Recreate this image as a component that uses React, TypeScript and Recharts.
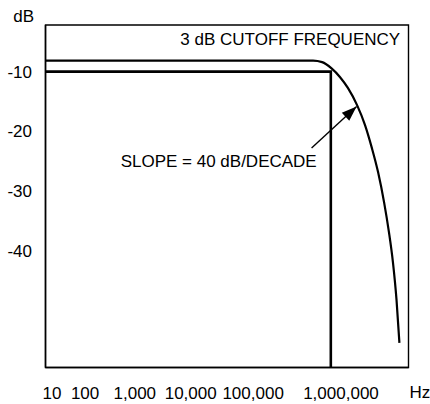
import React from 'react';
import {
  ComposedChart,
  Line,
  XAxis,
  YAxis,
  ReferenceArea,
  ReferenceLine,
  ReferenceDot,
} from 'recharts';

// x axis is a schematic decade scale, labels sit at hand-drawn positions
const freqLabels = ['10', '100', '1,000', '10,000', '100,000', '1,000,000'];
const freqPos = [0.18, 1.09, 2.46, 4.0, 5.72, 8.14];
const dbTicks = [-10, -20, -30, -40];

const responseX = [0, 7.37, 7.62, 7.88, 8.11, 8.33, 8.58, 8.8, 8.99, 9.16, 9.33, 9.46, 9.57, 9.67, 9.75];
const responseDb = [-8.16, -8.16, -8.41, -9.46, -10.89, -12.73, -15.57, -18.91, -22.76, -26.77, -31.96, -36.81, -41.82, -48.18, -55.37];

// ideal brick-wall response
const idealX = [0, 7.86, 7.86];
const idealDb = [-10, -10, -59.5];

// slope arrow
const arrowFrom = { x: 7.33, y: -22.76 };
const arrowTip = { x: 8.57, y: -15.85 };

const X_DOMAIN: [number, number] = [0, 10];
const Y_DOMAIN: [number, number] = [-59.5, -2.2];

const FONT = '"Liberation Sans", Arial, Helvetica, sans-serif';

const responseData = responseX.map((x, i) => ({ x, y: responseDb[i] }));
const idealData = idealX.map((x, i) => ({ x, y: idealDb[i] }));

const TextMark = ({ cx, cy, text, anchor }: any) => (
  <text
    x={cx}
    y={cy}
    textAnchor={anchor}
    dominantBaseline="central"
    fontSize={17}
    fontFamily={FONT}
    fill="#000"
  >
    {text}
  </text>
);

const ArrowHead = ({ cx, cy }: any) => {
  // direction of the arrow in screen space
  const ux = 0.737;
  const uy = -0.677;
  const len = 15;
  const half = 5.5;
  const bx = cx - ux * len;
  const by = cy - uy * len;
  const nx = -uy;
  const ny = ux;
  const pts = `${cx},${cy} ${bx + nx * half},${by + ny * half} ${bx - nx * half},${by - ny * half}`;
  return <polygon points={pts} fill="#000" />;
};

export default function App() {
  return (
    <div style={{ position: 'absolute', left: 0, top: 0, background: '#fff' }}>
      <ComposedChart
        width={430}
        height={404}
        margin={{ top: 25, right: 21.5, bottom: 0, left: 0 }}
      >
        <XAxis
          dataKey="x"
          type="number"
          domain={X_DOMAIN}
          ticks={freqPos}
          tickFormatter={(v: number, i: number) => freqLabels[i]}
          interval={0}
          allowDataOverflow
          height={36.5}
          tickLine={false}
          tickMargin={13}
          axisLine={{ stroke: '#000', strokeWidth: 1.5 }}
          tick={{ fill: '#000', fontSize: 17, fontFamily: FONT }}
          label={{
            content: ({ viewBox }: any) => (
              <text
                x={viewBox.x + viewBox.width + 1}
                y={398}
                fontSize={17}
                fontFamily={FONT}
                fill="#000"
              >
                Hz
              </text>
            ),
          }}
        />
        <YAxis
          type="number"
          domain={Y_DOMAIN}
          ticks={dbTicks}
          allowDataOverflow
          width={45.5}
          tickLine={false}
          tickMargin={7.5}
          axisLine={{ stroke: '#000', strokeWidth: 1.5 }}
          tick={{ fill: '#000', fontSize: 17, fontFamily: FONT }}
          label={{
            content: ({ viewBox }: any) => (
              <text
                x={viewBox.x + 13.3}
                y={viewBox.y - 3.3}
                fontSize={17}
                fontFamily={FONT}
                fill="#000"
              >
                dB
              </text>
            ),
          }}
        />
        <ReferenceArea
          x1={X_DOMAIN[0]}
          x2={X_DOMAIN[1]}
          y1={Y_DOMAIN[0]}
          y2={Y_DOMAIN[1]}
          fill="none"
          stroke="#000"
          strokeWidth={1.4}
        />
        <Line
          data={idealData}
          dataKey="y"
          type="linear"
          stroke="#000"
          strokeWidth={2.6}
          dot={false}
          isAnimationActive={false}
        />
        <Line
          data={responseData}
          dataKey="y"
          type="monotone"
          stroke="#000"
          strokeWidth={2.2}
          dot={false}
          isAnimationActive={false}
        />
        <ReferenceLine
          segment={[arrowFrom, arrowTip]}
          stroke="#000"
          strokeWidth={1.4}
        />
        <ReferenceDot x={arrowTip.x} y={arrowTip.y} r={1} shape={<ArrowHead />} />
        <ReferenceDot
          x={9.77}
          y={-4.7}
          r={1}
          shape={<TextMark text="3 dB CUTOFF FREQUENCY" anchor="end" />}
        />
        <ReferenceDot
          x={2.07}
          y={-25.05}
          r={1}
          shape={<TextMark text="SLOPE = 40 dB/DECADE" anchor="start" />}
        />
      </ComposedChart>
    </div>
  );
}
